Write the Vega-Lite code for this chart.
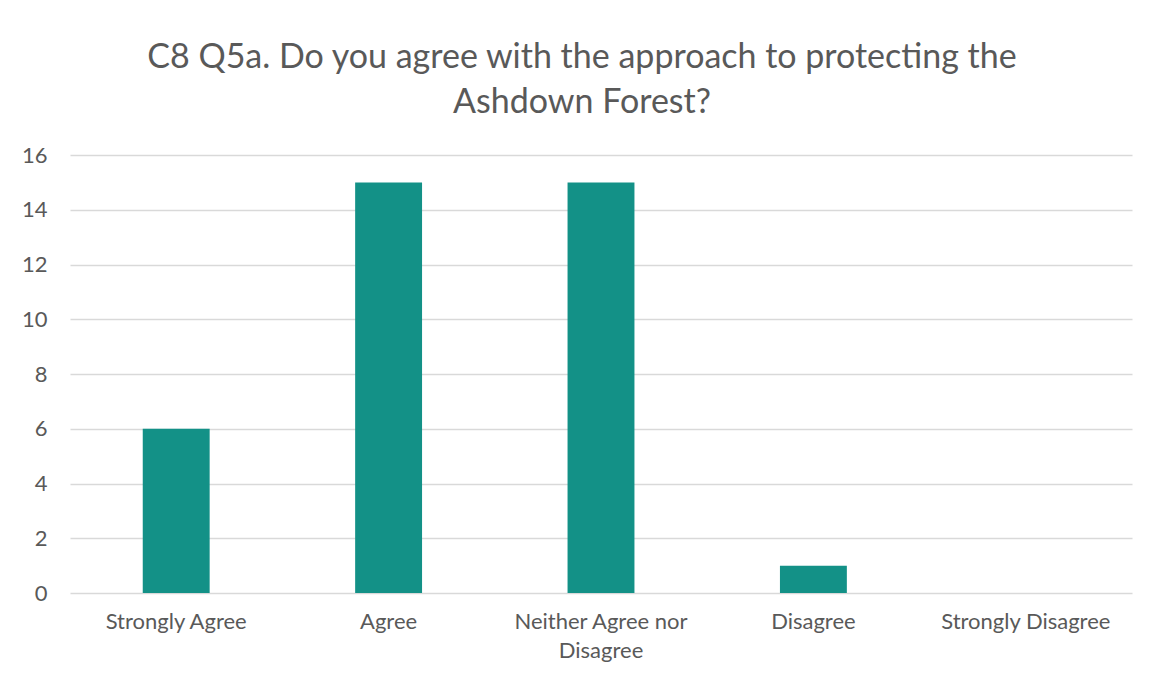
{
  "$schema": "https://vega.github.io/schema/vega-lite/v6.json",
  "width": 1062,
  "height": 438,
  "autosize": {"type": "none"},
  "padding": {"left": 70, "top": 155, "right": 17, "bottom": 84},
  "background": "white",
  "title": {
    "text": ["C8 Q5a. Do you agree with the approach to protecting the", "Ashdown Forest?"],
    "font": "Lato",
    "fontSize": 34,
    "fontWeight": "normal",
    "color": "#595959",
    "anchor": "middle",
    "frame": "group",
    "dx": -19,
    "offset": -10,
    "lineHeight": 45,
    "baseline": "bottom"
  },
  "data": {
    "values": [
      {"category": "Strongly Agree", "count": 6},
      {"category": "Agree", "count": 15},
      {"category": "Neither Agree nor Disagree", "count": 15},
      {"category": "Disagree", "count": 1},
      {"category": "Strongly Disagree", "count": 0}
    ]
  },
  "mark": {"type": "bar", "color": "#139187"},
  "encoding": {
    "x": {
      "field": "category",
      "type": "nominal",
      "sort": null,
      "scale": {"paddingInner": 0.685, "paddingOuter": 0.3425},
      "axis": {
        "title": null,
        "labelAngle": 0,
        "labelFont": "Lato",
        "labelFontSize": 22,
        "labelColor": "#595959",
        "labelPadding": 18,
        "labelLineHeight": 29,
        "ticks": false,
        "domain": false,
        "grid": false,
        "labelExpr": "datum.value == 'Neither Agree nor Disagree' ? ['Neither Agree nor', 'Disagree'] : datum.value"
      }
    },
    "y": {
      "field": "count",
      "type": "quantitative",
      "scale": {"domain": [0, 16]},
      "axis": {
        "title": null,
        "values": [0, 2, 4, 6, 8, 10, 12, 14, 16],
        "labelFont": "Lato",
        "labelFontSize": 22,
        "labelColor": "#595959",
        "labelPadding": 23,
        "ticks": false,
        "domain": false,
        "grid": true,
        "gridColor": "#d9d9d9",
        "gridWidth": 1.5
      }
    }
  },
  "config": {"view": {"stroke": null}}
}
